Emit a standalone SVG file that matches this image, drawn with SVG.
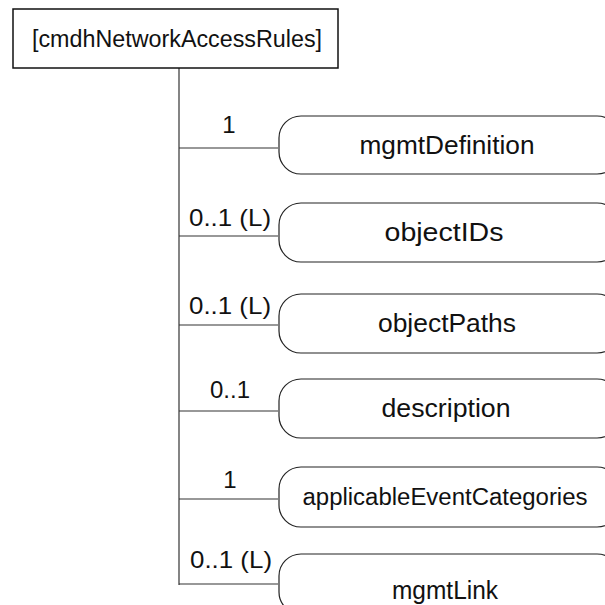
<svg xmlns="http://www.w3.org/2000/svg" width="605" height="605" viewBox="0 0 605 605">
<style>
.box{fill:#fff;stroke:#111;stroke-width:1.5}
.node{fill:#fff;stroke:#222;stroke-width:1.2}
.ln{stroke:#333;stroke-width:1.2;fill:none}
text{font-family:"Liberation Sans",Arial,sans-serif;fill:#111;text-anchor:middle}
.t{font-size:25px}
.h{font-size:23px}
.s{font-size:23px}
.lbl{font-size:24px}
</style>
<rect width="605" height="605" fill="#fff"/>
<g id="connectors">
<line class="ln" x1="179" y1="68" x2="179" y2="585"/>
<line class="ln" x1="179" y1="148" x2="278" y2="148"/>
<line class="ln" x1="179" y1="236" x2="278" y2="236"/>
<line class="ln" x1="179" y1="325" x2="278" y2="325"/>
<line class="ln" x1="179" y1="411" x2="278" y2="411"/>
<line class="ln" x1="179" y1="499" x2="278" y2="499"/>
<line class="ln" x1="179" y1="584" x2="278" y2="584"/>
<text class="lbl" x="229" y="133">1</text>
<text class="lbl" x="230" y="226" textLength="82" lengthAdjust="spacingAndGlyphs">0..1 (L)</text>
<text class="lbl" x="230" y="314" textLength="82" lengthAdjust="spacingAndGlyphs">0..1 (L)</text>
<text class="lbl" x="230" y="398" textLength="40" lengthAdjust="spacingAndGlyphs">0..1</text>
<text class="lbl" x="230" y="488">1</text>
<text class="lbl" x="231" y="568" textLength="82" lengthAdjust="spacingAndGlyphs">0..1 (L)</text>
</g>
<g id="cmdhNetworkAccessRules">
<rect class="box" x="13" y="9" width="325" height="59"/>
<text class="h" x="177" y="47" textLength="290" lengthAdjust="spacingAndGlyphs">[cmdhNetworkAccessRules]</text>
</g>
<g id="mgmtDefinition">
<rect class="node" x="279" y="116" width="340" height="58" rx="22" ry="22"/>
<text class="t" x="447" y="154" textLength="175" lengthAdjust="spacingAndGlyphs">mgmtDefinition</text>
</g>
<g id="objectIDs">
<rect class="node" x="279" y="203" width="340" height="59" rx="22" ry="22"/>
<text class="t" x="444" y="241" textLength="119" lengthAdjust="spacingAndGlyphs">objectIDs</text>
</g>
<g id="objectPaths">
<rect class="node" x="279" y="294" width="340" height="59" rx="22" ry="22"/>
<text class="t" x="447" y="332" textLength="138" lengthAdjust="spacingAndGlyphs">objectPaths</text>
</g>
<g id="description">
<rect class="node" x="279" y="379" width="340" height="59" rx="22" ry="22"/>
<text class="t" x="446" y="417" textLength="129" lengthAdjust="spacingAndGlyphs">description</text>
</g>
<g id="applicableEventCategories">
<rect class="node" x="279" y="467" width="340" height="60" rx="22" ry="22"/>
<text class="s" x="445" y="505" textLength="285" lengthAdjust="spacingAndGlyphs">applicableEventCategories</text>
</g>
<g id="mgmtLink">
<rect class="node" x="279" y="554" width="340" height="60" rx="22" ry="22"/>
<text class="t" x="445" y="599" textLength="106" lengthAdjust="spacingAndGlyphs">mgmtLink</text>
</g>
</svg>
